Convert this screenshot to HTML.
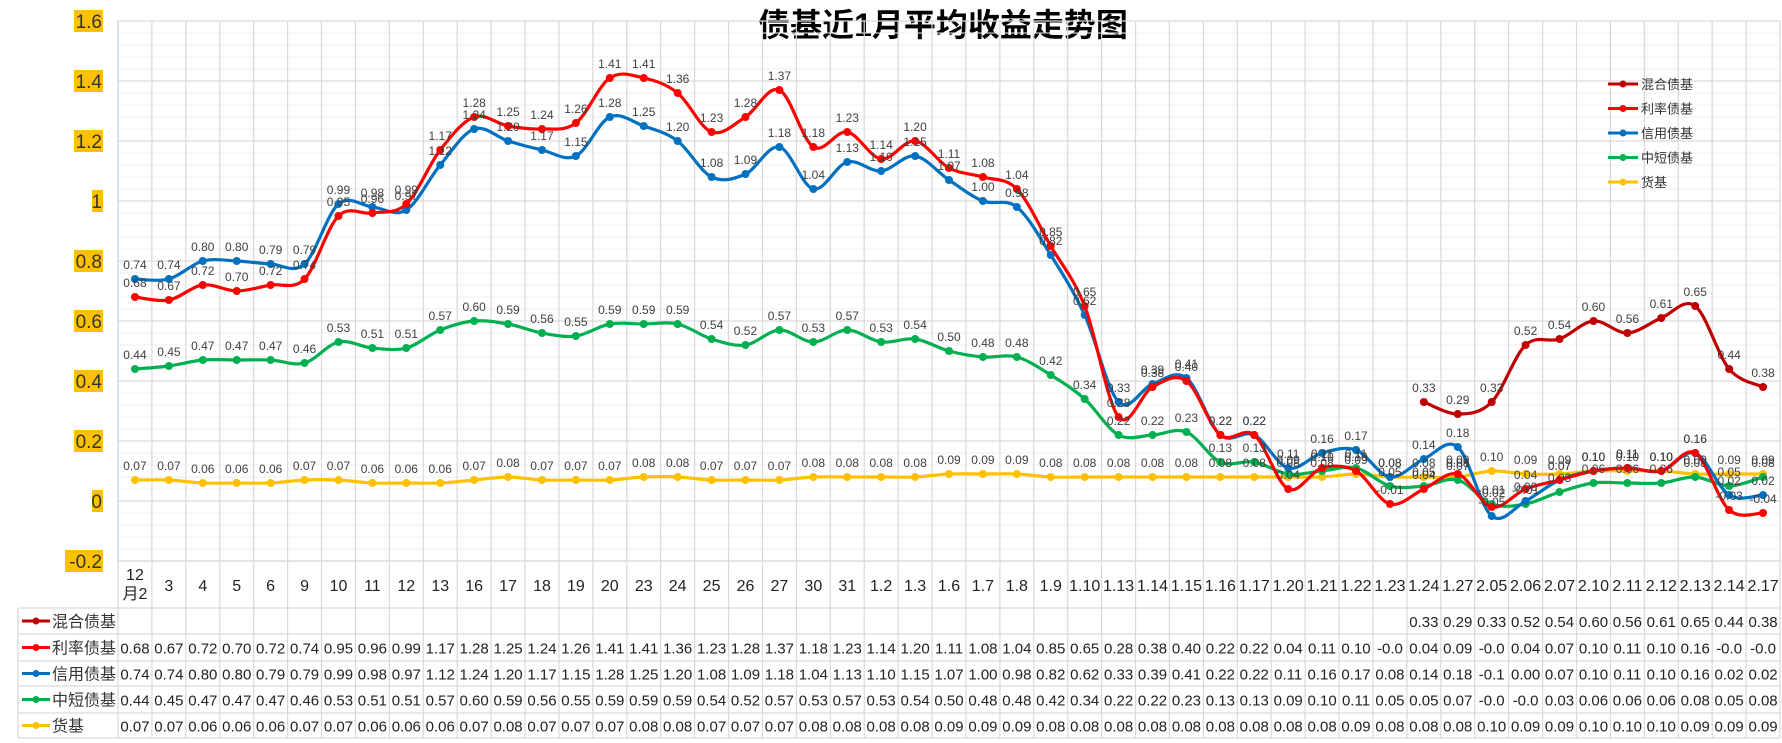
<!DOCTYPE html>
<html><head><meta charset="utf-8"><style>
body{margin:0;background:#fff;}
svg{display:block;font-family:"Liberation Sans","Noto Sans CJK SC",sans-serif;}
</style></head><body>
<svg id="chart" width="1782" height="743" viewBox="0 0 1782 743" xmlns="http://www.w3.org/2000/svg">
<rect width="1782" height="743" fill="#fff"/>
<text x="943" y="36" text-anchor="middle" font-size="32" font-weight="bold" fill="#000">债基近1月平均收益走势图</text>
<g id="grid"></g><g id="yaxis"></g><g id="series"></g><g id="labels"></g><g id="table"></g><g id="legend"></g>
</svg>
<script>
const categories=["12月2","3","4","5","6","9","10","11","12","13","16","17","18","19","20","23","24","25","26","27","30","31","1.2","1.3","1.6","1.7","1.8","1.9","1.10","1.13","1.14","1.15","1.16","1.17","1.20","1.21","1.22","1.23","1.24","1.27","2.05","2.06","2.07","2.10","2.11","2.12","2.13","2.14","2.17"];
const seriesNames=["混合债基","利率债基","信用债基","中短债基","货基"];
const mixed=[null,null,null,null,null,null,null,null,null,null,null,null,null,null,null,null,null,null,null,null,null,null,null,null,null,null,null,null,null,null,null,null,null,null,null,null,null,null,0.33,0.29,0.33,0.52,0.54,0.60,0.56,0.61,0.65,0.44,0.38];
const rate=[0.68,0.67,0.72,0.70,0.72,0.74,0.95,0.96,0.99,1.17,1.28,1.25,1.24,1.26,1.41,1.41,1.36,1.23,1.28,1.37,1.18,1.23,1.14,1.20,1.11,1.08,1.04,0.85,0.65,0.28,0.38,0.40,0.22,0.22,0.04,0.11,0.10,-0.01,0.04,0.09,-0.02,0.04,0.07,0.10,0.11,0.10,0.16,-0.03,-0.04];
const credit=[0.74,0.74,0.80,0.80,0.79,0.79,0.99,0.98,0.97,1.12,1.24,1.20,1.17,1.15,1.28,1.25,1.20,1.08,1.09,1.18,1.04,1.13,1.10,1.15,1.07,1.00,0.98,0.82,0.62,0.33,0.39,0.41,0.22,0.22,0.11,0.16,0.17,0.08,0.14,0.18,-0.05,0.00,0.07,0.10,0.11,0.10,0.16,0.02,0.02];
const shortTerm=[0.44,0.45,0.47,0.47,0.47,0.46,0.53,0.51,0.51,0.57,0.60,0.59,0.56,0.55,0.59,0.59,0.59,0.54,0.52,0.57,0.53,0.57,0.53,0.54,0.50,0.48,0.48,0.42,0.34,0.22,0.22,0.23,0.13,0.13,0.09,0.10,0.11,0.05,0.05,0.07,-0.01,-0.01,0.03,0.06,0.06,0.06,0.08,0.05,0.08];
const money=[0.07,0.07,0.06,0.06,0.06,0.07,0.07,0.06,0.06,0.06,0.07,0.08,0.07,0.07,0.07,0.08,0.08,0.07,0.07,0.07,0.08,0.08,0.08,0.08,0.09,0.09,0.09,0.08,0.08,0.08,0.08,0.08,0.08,0.08,0.08,0.08,0.09,0.08,0.08,0.08,0.10,0.09,0.09,0.10,0.10,0.10,0.09,0.09,0.09];
const yTicks=[-0.2,0,0.2,0.4,0.6,0.8,1,1.2,1.4,1.6];
const colors=["#C00000","#FF0000","#0070C0","#00B050","#FFC000"];
const allSeries=[mixed,rate,credit,shortTerm,money];
const seriesKeys=["mixed","rate","credit","short","money"];

const NS="http://www.w3.org/2000/svg";
const L=118,R=1780,N=categories.length,W=(R-L)/N;
const yMin=-0.2,yMax=1.6,yTop=21,yBot=561;
function X(i){return L+W*(i+0.5);}
function Y(v){return yBot-(v-yMin)/(yMax-yMin)*(yBot-yTop);}
function mk(tag,attrs,parent,txt){const e=document.createElementNS(NS,tag);for(const k in attrs)e.setAttribute(k,attrs[k]);if(txt!==undefined)e.textContent=txt;parent.appendChild(e);return e;}
const grid=document.getElementById('grid'),yax=document.getElementById('yaxis'),ser=document.getElementById('series'),lab=document.getElementById('labels'),tab=document.getElementById('table'),leg=document.getElementById('legend');
// minor grid
for(let v=yMin;v<=yMax+1e-9;v+=0.04){mk('line',{x1:L,x2:R,y1:Y(v),y2:Y(v),stroke:'#efefef','stroke-width':1},grid);}
for(const t of yTicks){
  const g=mk('line',{x1:L,x2:R,y1:Y(t),y2:Y(t),stroke:'#d9d9d9','stroke-width':1.3},grid);
  
  
  const s=String(t);
  const tw=s.length*9+2;
  mk('rect',{x:103-tw,y:Y(t)-11,width:tw,height:22,fill:'#FFC000'},yax);
  const tx=mk('text',{x:102,y:Y(t)+7,'text-anchor':'end','font-size':19,fill:'#333'},yax,s);
  
  
}
// vertical lines (plot + table)
for(let i=0;i<=N;i++){mk('line',{x1:L+W*i,x2:L+W*i,y1:yTop,y2:738,stroke:'#d9d9d9','stroke-width':1.2},grid);}
mk('line',{x1:L,x2:L,y1:yTop,y2:yBot,stroke:'#bdd7ee','stroke-width':1.2},grid);
// table rows
const rowY=[561,608,634,661,686,713,738];
for(let r=0;r<rowY.length;r++){mk('line',{x1:r<2?(r==0?L:18):18,x2:R,y1:rowY[r],y2:rowY[r],stroke:'#d9d9d9','stroke-width':1.2},tab);}
mk('line',{x1:18,x2:18,y1:608,y2:738,stroke:'#d9d9d9','stroke-width':1.2},tab);
categories.forEach((c,i)=>{
  let t;
  if(c.length>3&&c.indexOf('月')>=0){
    t=mk('text',{x:X(i),y:580,'text-anchor':'middle','font-size':16,fill:'#222'},tab);
    mk('tspan',{x:X(i)},t,c.slice(0,2));mk('tspan',{x:X(i),dy:19},t,c.slice(2));
  } else t=mk('text',{x:X(i),y:591,'text-anchor':'middle','font-size':16,fill:'#222'},tab,c);
  
  
});
function fmt(v){if(v<0)return v.toFixed(1);return v.toFixed(2);}
allSeries.forEach((arr,s)=>{
  const cy=(rowY[s+1]+rowY[s+2])/2;
  mk('line',{x1:22,x2:50,y1:cy,y2:cy,stroke:colors[s],'stroke-width':3},tab);
  mk('circle',{cx:36,cy:cy,r:3.5,fill:colors[s]},tab);
  const nt=mk('text',{x:52,y:cy+6,'font-size':16,fill:'#333'},tab,seriesNames[s]);
  
  
  arr.forEach((v,i)=>{if(v===null)return;
    const t=mk('text',{x:X(i),y:cy+6,'text-anchor':'middle','font-size':15,fill:'#222'},tab,fmt(v));
    
    
  });
});
// smooth path
function smooth(pts){
  let d='M'+pts[0][0]+','+pts[0][1];
  for(let i=0;i<pts.length-1;i++){
    const p0=pts[i-1]||pts[i],p1=pts[i],p2=pts[i+1],p3=pts[i+2]||p2,k=6;
    d+=' C'+(p1[0]+(p2[0]-p0[0])/k)+','+(p1[1]+(p2[1]-p0[1])/k)+' '+(p2[0]-(p3[0]-p1[0])/k)+','+(p2[1]-(p3[1]-p1[1])/k)+' '+p2[0]+','+p2[1];
  }
  return d;
}
[4,3,2,1,0].forEach(s=>{
  const arr=allSeries[s];const pts=[];
  arr.forEach((v,i)=>{if(v!==null)pts.push([X(i),Y(v)]);});
  const p=mk('path',{d:smooth(pts),fill:'none',stroke:colors[s],'stroke-width':3.2},ser);
  
  
  arr.forEach((v,i)=>{if(v===null)return;
    const c=mk('circle',{cx:X(i),cy:Y(v),r:4,fill:colors[s]},ser);
    
    
    const t=mk('text',{x:X(i),y:Y(v)-10,'text-anchor':'middle','font-size':12,fill:'#404040'},lab,v.toFixed(2));
    
    
  });
});
// legend
seriesNames.forEach((n,s)=>{
  const y=84+s*24.5;
  mk('line',{x1:1608,x2:1638,y1:y,y2:y,stroke:colors[s],'stroke-width':3},leg);
  mk('circle',{cx:1623,cy:y,r:3.5,fill:colors[s]},leg);
  const t=mk('text',{x:1641,y:y+5,'font-size':13,fill:'#333'},leg,n);
  
  
});
</script>
</body></html>
